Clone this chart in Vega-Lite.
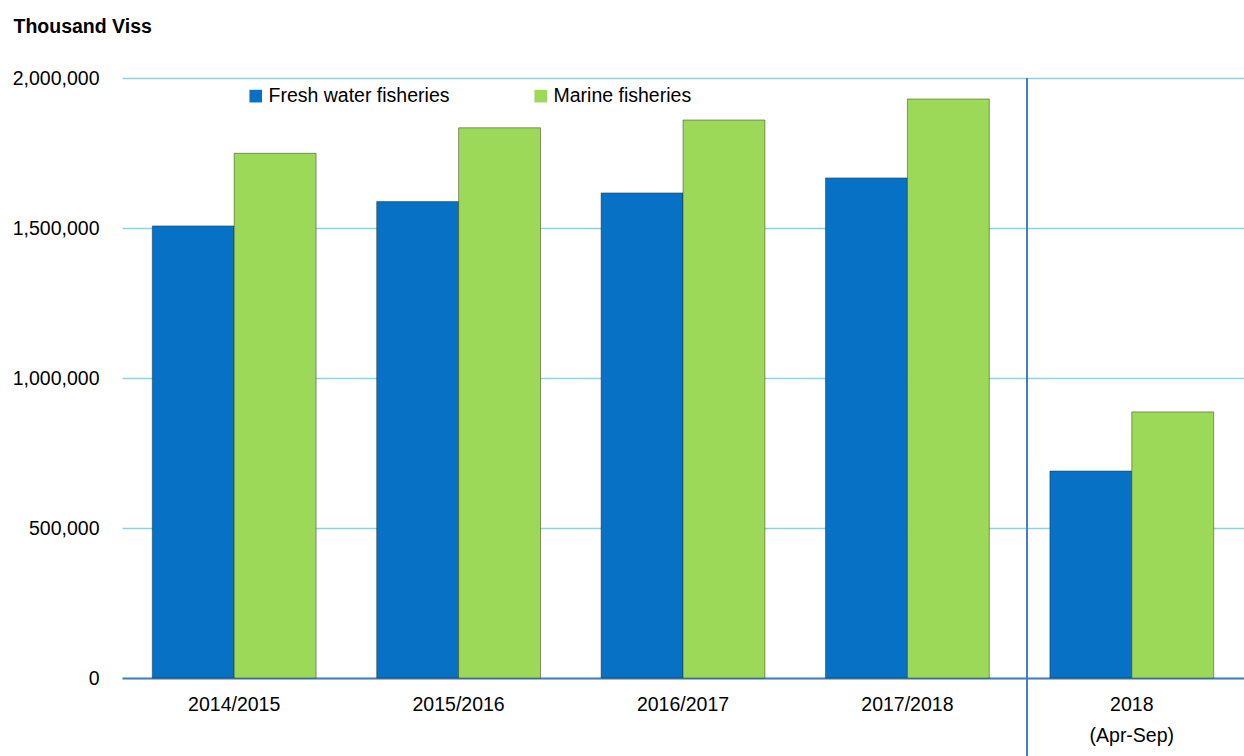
{
  "$schema": "https://vega.github.io/schema/vega-lite/v6.json",
  "width": 1122,
  "height": 600,
  "autosize": "none",
  "padding": {"left": 122, "top": 78, "right": 0, "bottom": 78},
  "background": "white",
  "config": {
    "view": {"stroke": null},
    "font": "Liberation Sans",
    "axis": {"labelFont": "Liberation Sans", "titleFont": "Liberation Sans"},
    "legend": {"labelFont": "Liberation Sans"}
  },
  "data": {
    "values": [
      {"period": "2014/2015", "series": "Fresh water fisheries", "value": 1507000},
      {"period": "2014/2015", "series": "Marine fisheries", "value": 1749000},
      {"period": "2015/2016", "series": "Fresh water fisheries", "value": 1588000},
      {"period": "2015/2016", "series": "Marine fisheries", "value": 1834000},
      {"period": "2016/2017", "series": "Fresh water fisheries", "value": 1617000},
      {"period": "2016/2017", "series": "Marine fisheries", "value": 1860000},
      {"period": "2017/2018", "series": "Fresh water fisheries", "value": 1667000},
      {"period": "2017/2018", "series": "Marine fisheries", "value": 1930000},
      {"period": "2018 (Apr-Sep)", "series": "Fresh water fisheries", "value": 690000},
      {"period": "2018 (Apr-Sep)", "series": "Marine fisheries", "value": 887000}
    ]
  },
  "layer": [
    {
      "mark": {"type": "bar", "stroke": "#1e2a12", "strokeWidth": 1, "strokeOpacity": 0.45},
      "encoding": {
        "x": {
          "field": "period",
          "type": "nominal",
          "sort": null,
          "scale": {"paddingInner": 0.27, "paddingOuter": 0.135},
          "axis": {
            "title": null,
            "labelAngle": 0,
            "labelFontSize": 19.5,
            "labelColor": "#000000",
            "labelPadding": 17,
            "labelLineHeight": 31,
            "labelExpr": "datum.value == '2018 (Apr-Sep)' ? ['2018', '(Apr-Sep)'] : datum.label",
            "ticks": false,
            "domain": true,
            "domainColor": "#4A7EBB",
            "domainWidth": 2,
            "grid": false
          }
        },
        "xOffset": {"field": "series", "type": "nominal", "sort": ["Fresh water fisheries", "Marine fisheries"]},
        "y": {
          "field": "value",
          "type": "quantitative",
          "scale": {"domain": [0, 2000000], "nice": false},
          "axis": {
            "title": "Thousand Viss",
            "titleAngle": 0,
            "titleX": -109,
            "titleY": -46,
            "titleAlign": "left",
            "titleBaseline": "alphabetic",
            "titleFontSize": 19.5,
            "titleFontWeight": "bold",
            "titleColor": "#000000",
            "values": [0, 500000, 1000000, 1500000, 2000000],
            "labelExpr": "format(datum.value, ',')",
            "labelFontSize": 19.5,
            "labelColor": "#000000",
            "labelPadding": 23,
            "ticks": false,
            "domain": false,
            "grid": true,
            "gridColor": "#86D6E0",
            "gridWidth": 1.5
          }
        },
        "color": {
          "field": "series",
          "type": "nominal",
          "scale": {"domain": ["Fresh water fisheries", "Marine fisheries"], "range": ["#0771C6", "#9DD958"]},
          "legend": {
            "title": null,
            "orient": "none",
            "legendX": 124,
            "legendY": 8,
            "direction": "horizontal",
            "symbolType": "square",
            "symbolSize": 160,
            "symbolStrokeWidth": 0,
            "labelFontSize": 19.5,
            "labelColor": "#000000",
            "labelOffset": 3,
            "columnPadding": 81,
            "padding": 0,
            "labelLimit": 400
          }
        }
      }
    },
    {
      "mark": {"type": "rule", "color": "#4A7EBB", "strokeWidth": 1.5, "xOffset": -23},
      "encoding": {
        "x": {"datum": "2018 (Apr-Sep)", "type": "nominal", "bandPosition": 0},
        "y": {
          "datum": 2000000,
          "type": "quantitative",
          "axis": {
            "title": "Thousand Viss",
            "titleAngle": 0,
            "titleX": -109,
            "titleY": -46,
            "titleAlign": "left",
            "titleBaseline": "alphabetic",
            "titleFontSize": 19.5,
            "titleFontWeight": "bold",
            "titleColor": "#000000",
            "values": [0, 500000, 1000000, 1500000, 2000000],
            "labelExpr": "format(datum.value, ',')",
            "labelFontSize": 19.5,
            "labelColor": "#000000",
            "labelPadding": 23,
            "ticks": false,
            "domain": false,
            "grid": true,
            "gridColor": "#86D6E0",
            "gridWidth": 1.5
          }
        },
        "y2": {"datum": -260000}
      }
    }
  ]
}
